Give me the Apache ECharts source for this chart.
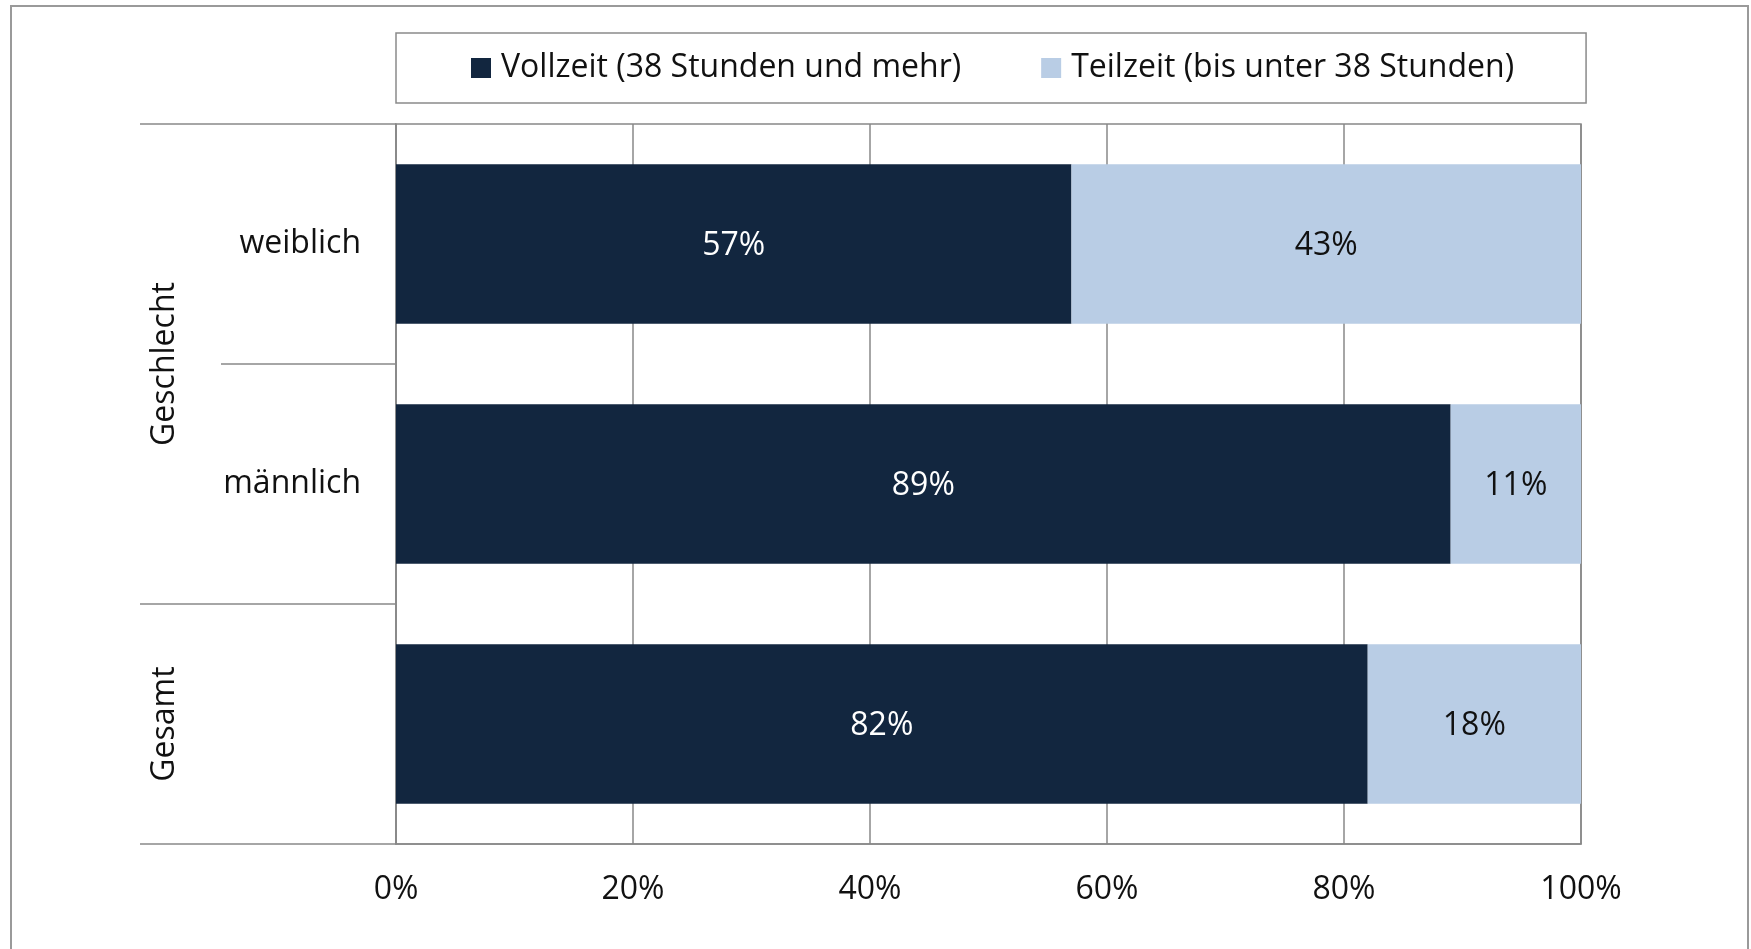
<!DOCTYPE html>
<html>
<head>
<meta charset="utf-8">
<script src="https://cdn.jsdelivr.net/npm/echarts@6/dist/echarts.min.js"></script>
<style>
html,body{margin:0;padding:0;background:#fff;}
#main{width:1751px;height:949px;}
</style>
</head>
<body>
<div id="main"></div>
<script>
const categories = ['weiblich', 'männlich', 'Gesamt'];
const seriesNames = ['Vollzeit (38 Stunden und mehr)', 'Teilzeit (bis unter 38 Stunden)'];
const vollzeit = [57, 89, 82];
const teilzeit = [43, 11, 18];
const xMin = 0, xMax = 100, xStep = 20;
const groups = [
  { name: 'Geschlecht', members: ['weiblich', 'männlich'] },
  { name: 'Gesamt', members: ['Gesamt'] }
];

const FONT = 'Open Sans';
const DARK = '#12263f';
const LIGHT = '#b9cde5';
const GRID_C = '#888888';
const gridLeft = 396, gridRight = 170, gridTop = 124, gridBottom = 105;

// categories that form a group of their own carry only the rotated group label
const singleGroup = new Set(groups.filter(g => g.members.length === 1).map(g => g.members[0]));

const chart = echarts.init(document.getElementById('main'), null, { renderer: 'canvas' });

const option = {
  animation: false,
  backgroundColor: '#fff',
  textStyle: { fontFamily: FONT },
  legend: {
    left: 396,
    top: 33,
    padding: [19, 72, 19, 75],
    itemGap: 80,
    itemWidth: 20,
    itemHeight: 20,
    borderColor: '#8a8a8a',
    borderWidth: 1.5,
    icon: 'rect',
    textStyle: { fontFamily: FONT, fontSize: 32, color: '#111', padding: [0, 0, 0, 5] },
    data: seriesNames
  },
  grid: {
    left: gridLeft, right: gridRight, top: gridTop, bottom: gridBottom,
    show: true, borderColor: GRID_C, borderWidth: 1.5, containLabel: false
  },
  xAxis: {
    type: 'value', min: xMin, max: xMax, interval: xStep,
    axisLine: { show: true, lineStyle: { color: GRID_C, width: 1.5 } },
    axisTick: { show: false },
    splitLine: { show: true, lineStyle: { color: GRID_C, width: 1.5 } },
    axisLabel: { formatter: '{value}%', fontFamily: FONT, fontSize: 32, color: '#111', margin: 30 }
  },
  yAxis: {
    type: 'category', data: categories, inverse: true,
    axisLine: { show: true, lineStyle: { color: GRID_C, width: 1.5 } },
    axisTick: { show: false },
    splitLine: { show: false },
    axisLabel: {
      fontFamily: FONT, fontSize: 32, color: '#111', margin: 35,
      formatter: v => singleGroup.has(v) ? '' : v
    }
  },
  series: [
    {
      name: seriesNames[0], type: 'bar', stack: 'total', data: vollzeit,
      barCategoryGap: '33.5%',
      itemStyle: { color: DARK },
      label: { show: true, position: 'inside', offset: [0, 2], formatter: '{c}%', color: '#fff', fontFamily: FONT, fontSize: 32 }
    },
    {
      name: seriesNames[1], type: 'bar', stack: 'total', data: teilzeit,
      barCategoryGap: '33.5%',
      itemStyle: { color: LIGHT },
      label: { show: true, position: 'inside', offset: [0, 2], formatter: '{c}%', color: '#111', fontFamily: FONT, fontSize: 32 }
    }
  ]
};
chart.setOption(option);

// group separators and labels derived from category positions
const cy = categories.map(c => chart.convertToPixel({ yAxisIndex: 0 }, c));
const band = Math.abs(cy[1] - cy[0]);
const graphics = [];
graphics.push({
  type: 'rect', silent: true, z: 0,
  shape: { x: 11, y: 6, width: 1737, height: 980 },
  style: { fill: null, stroke: '#9a9a9a', lineWidth: 2 }
});
const sepStyle = { stroke: GRID_C, lineWidth: 1.5 };
groups.forEach((g, gi) => {
  const first = categories.indexOf(g.members[0]);
  const last = categories.indexOf(g.members[g.members.length - 1]);
  const yTop = cy[first] - band / 2;
  const yBot = cy[last] + band / 2;
  if (gi === 0) {
    graphics.push({ type: 'line', silent: true, shape: { x1: 140, y1: yTop, x2: gridLeft, y2: yTop }, style: sepStyle });
  }
  graphics.push({ type: 'line', silent: true, shape: { x1: 140, y1: yBot, x2: gridLeft, y2: yBot }, style: sepStyle });
  for (let k = first; k < last; k++) {
    const yb = (cy[k] + cy[k + 1]) / 2;
    graphics.push({ type: 'line', silent: true, shape: { x1: 221, y1: yb, x2: gridLeft, y2: yb }, style: sepStyle });
  }
  graphics.push({
    type: 'text', silent: true,
    x: 165, y: (yTop + yBot) / 2, rotation: Math.PI / 2,
    style: { text: g.name, fontFamily: FONT, fontSize: 32, fill: '#111', textAlign: 'center', textVerticalAlign: 'middle' }
  });
});
chart.setOption({ graphic: graphics });
</script>
</body>
</html>
